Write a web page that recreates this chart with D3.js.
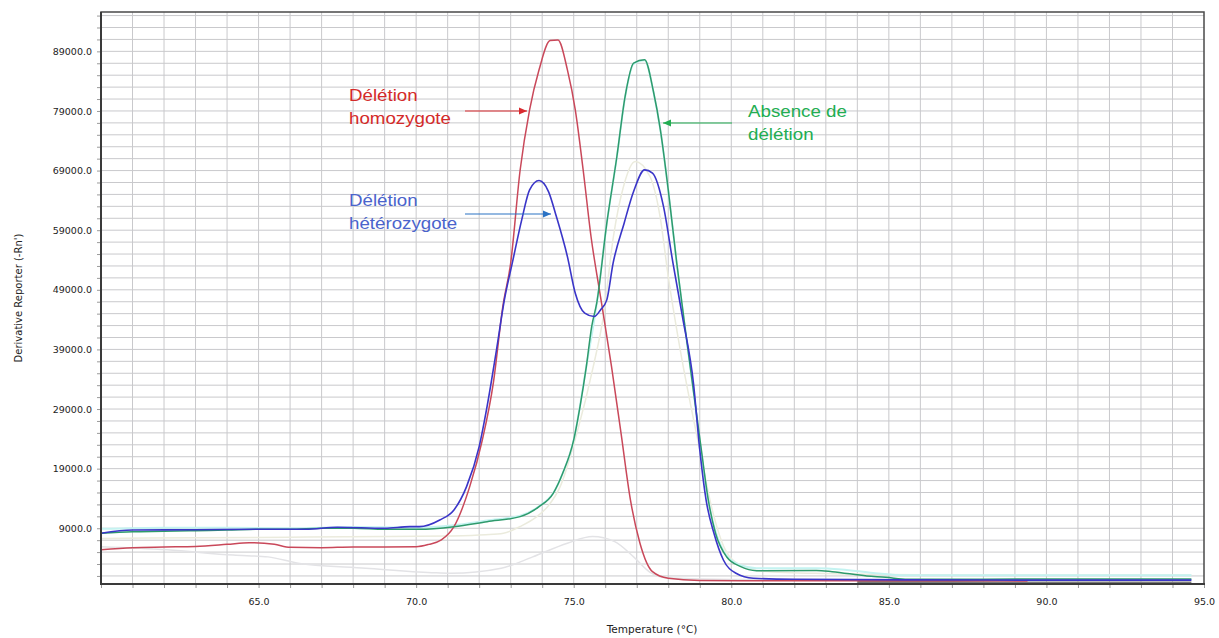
<!DOCTYPE html>
<html>
<head>
<meta charset="utf-8">
<script src="https://cdn.jsdelivr.net/npm/d3@7"></script>
<style>
  body { margin: 0; background: #ffffff; }
  svg { display: block; }
</style>
</head>
<body>
<svg id="chart" width="1219" height="638"></svg>
<script>
// ---------- DATA ----------
const xTickLabels = [65, 70, 75, 80, 85, 90, 95];
const yTickLabels = [9000, 19000, 29000, 39000, 49000, 59000, 69000, 79000, 89000];

// Délétion homozygote (red)
const redT = [60, 61, 62, 63, 64, 64.7, 65.5, 66, 67, 68, 69, 70, 70.4, 70.8, 71.2, 71.7, 72.1, 72.45, 72.75, 73.0, 73.3, 73.6, 73.9, 74.25, 74.5, 74.8, 75.05, 75.3, 75.55, 75.85, 76.2, 76.5, 76.8, 77.1, 77.5, 78.0, 79.0, 81, 84, 87, 89.4];
const redV = [5400, 5750, 5860, 5950, 6300, 6580, 6300, 5800, 5750, 5860, 5860, 5900, 6300, 7040, 9270, 15980, 23800, 33380, 46180, 53500, 69100, 79200, 85900, 90800, 90900, 85900, 79200, 69100, 57900, 47860, 36100, 25000, 13750, 6530, 1720, 610, 250, 200, 200, 200, 150];

// Délétion hétérozygote (blue)
const blueT = [60, 61, 63, 65, 66.5, 67.5, 69, 69.8, 70.1, 70.75, 71.2, 71.6, 72.0, 72.25, 72.55, 72.8, 73.05, 73.35, 73.6, 73.9, 74.2, 74.45, 74.8, 75.05, 75.35, 75.65, 75.85, 76.05, 76.25, 76.6, 76.9, 77.25, 77.5, 77.85, 78.15, 78.45, 78.8, 79.0, 79.2, 79.45, 79.75, 80.15, 80.7, 82, 85.5, 90, 94.6];
const blueV = [8160, 8700, 8750, 8830, 8830, 9170, 9000, 9270, 9270, 10390, 12070, 15980, 22690, 29400, 38920, 47310, 53470, 60730, 65770, 67330, 65480, 61290, 54570, 48430, 45080, 44510, 45630, 47310, 53470, 60180, 65480, 69120, 68570, 62960, 53470, 44510, 33330, 22140, 13750, 8160, 3680, 1450, 610, 440, 350, 300, 300];

// Absence de délétion (green)
const greenT = [60, 61, 62, 63, 64, 65, 66, 67, 68, 69, 70.1, 71.2, 72.25, 73.3, 73.9, 74.35, 74.65, 75.0, 75.2, 75.4, 75.57, 75.73, 76.05, 76.37, 76.63, 76.9, 77.25, 77.53, 77.75, 78.0, 78.27, 78.55, 78.8, 79.05, 79.27, 79.5, 79.85, 80.3, 80.8, 82.7, 83.2, 84.3, 84.9, 85.6, 88, 91, 94.6];
const greenV = [8160, 8430, 8500, 8600, 8700, 8830, 8830, 9000, 9000, 8830, 8830, 9270, 10110, 10950, 12620, 14870, 18230, 23820, 29400, 36120, 42830, 46760, 60180, 71360, 81420, 87030, 87580, 82260, 75840, 65770, 53470, 42000, 32000, 22140, 13750, 8160, 4230, 2560, 1890, 1900, 1720, 1000, 780, 440, 450, 500, 500];

// faint replicate close to green (light cyan)
const cyanT = [60, 62, 64, 66, 68, 70, 71.2, 72.25, 73.3, 73.9, 74.35, 74.65, 75.0, 75.4, 75.73, 76.05, 76.37, 76.63, 76.9, 77.25, 77.53, 77.75, 78.0, 78.27, 78.8, 79.27, 79.85, 80.3, 80.8, 82.7, 83.5, 84.5, 85.6, 88, 91, 94.6];
const cyanV = [8900, 9100, 9100, 9000, 9200, 9100, 9500, 10300, 11100, 12700, 14900, 18200, 23800, 36100, 46700, 60100, 71300, 81300, 86900, 87500, 82200, 75800, 65700, 53400, 32000, 13700, 4400, 2800, 2300, 2300, 2100, 1500, 1100, 1100, 1100, 1100];

// faint pale curve (peak near 77 °C)
const paleT = [60, 63, 66, 69, 71, 72.2, 72.77, 73.3, 73.83, 74.2, 74.57, 75.1, 75.62, 75.94, 76.26, 76.58, 76.95, 77.42, 77.74, 78.0, 78.38, 79.0, 79.4, 79.8, 80.3, 81, 83, 86, 90, 94.6];
const paleV = [7300, 7400, 7500, 7600, 7700, 7900, 8160, 9300, 10950, 12800, 15980, 24940, 36120, 44510, 57930, 66320, 70510, 68000, 61290, 51220, 38920, 22140, 12000, 5500, 2800, 1800, 1400, 1200, 1150, 1150];

// faint gray low curve
const grayT = [60, 62.1, 64.2, 65.3, 66.3, 68.4, 70.5, 71.1, 72.7, 73.7, 74.8, 75.6, 76.3, 76.9, 77.4, 78.0, 80, 85, 90, 94.6];
const grayV = [5900, 5400, 4500, 4200, 3100, 2300, 1550, 1450, 2300, 4200, 6500, 7600, 6750, 4200, 1700, 650, 400, 400, 350, 300];

// dark tail near the baseline at high temperature
const tailT = [84, 86, 88, 89.4, 92, 94.6];
const tailV = [0, -50, -100, -150, -150, -150];

// ---------- CHART ----------
const svg = d3.select("#chart");
const L = 101, R = 1204, T = 12, B = 584;
const x = d3.scaleLinear().domain([60, 95]).range([L, R]);
const y = d3.scaleLinear().domain([-350, 95600]).range([B, T]);

svg.append("rect").attr("width", 1219).attr("height", 638).attr("fill", "#ffffff");

svg.append("defs").append("clipPath").attr("id", "plotclip")
  .append("rect").attr("x", L).attr("y", T).attr("width", R - L).attr("height", B - T);

// gridlines
const grid = svg.append("g");
grid.selectAll("line.v").data(d3.range(61, 95)).join("line")
  .attr("x1", d => x(d)).attr("x2", d => x(d)).attr("y1", T).attr("y2", B)
  .attr("stroke", "#c9c9cc").attr("stroke-width", 1);
grid.selectAll("line.h").data(d3.range(1000, 96000, 2000)).join("line")
  .attr("x1", L).attr("x2", R).attr("y1", d => y(d)).attr("y2", d => y(d))
  .attr("stroke", "#c9c9cc").attr("stroke-width", 1);

// axes
const fmt = d3.format(".1f");
const xAxis = d3.axisBottom(x).tickValues(d3.range(60, 96, 1)).tickSize(4).tickPadding(10)
  .tickFormat(d => xTickLabels.includes(d) ? fmt(d) : "");
const gx = svg.append("g").attr("transform", `translate(0,${B})`).call(xAxis);
const yAxis = d3.axisLeft(y).tickValues(d3.range(1000, 96000, 2000)).tickSize(4).tickPadding(5)
  .tickFormat(d => yTickLabels.includes(d) ? fmt(d) : "");
const gy = svg.append("g").attr("transform", `translate(${L},0)`).call(yAxis);
[gx, gy].forEach(g => {
  g.select(".domain").remove();
  g.selectAll(".tick line").attr("stroke", "#9a9a9a");
  g.selectAll(".tick text").attr("fill", "#222").attr("font-family", "DejaVu Sans")
    .attr("font-size", "9.5px");
});

// curves
const clipG = svg.append("g").attr("clip-path", "url(#plotclip)");
const line = d3.line().x(d => x(d[0])).y(d => y(d[1])).curve(d3.curveMonotoneX);
const series = [
  { t: grayT, v: grayV, color: "#e3e3e6", w: 1.5 },
  { t: paleT, v: paleV, color: "#ebebdd", w: 1.5 },
  { t: tailT, v: tailV, color: "#7a7a7a", w: 2.5 },
  { t: cyanT, v: cyanV, color: "#c4f3f1", w: 2 },
  { t: redT, v: redV, color: "#c9485a", w: 1.5 },
  { t: greenT, v: greenV, color: "#2e9a6c", w: 1.5 },
  { t: blueT, v: blueV, color: "#3a35c8", w: 1.6 }
];
series.forEach(s => {
  clipG.append("path").datum(s.t.map((t, i) => [t, s.v[i]]))
    .attr("d", line).attr("fill", "none").attr("stroke", s.color)
    .attr("stroke-width", s.w).attr("stroke-linejoin", "round");
});

// frame
svg.append("rect").attr("x", L).attr("y", T).attr("width", R - L).attr("height", B - T)
  .attr("fill", "none").attr("stroke", "#4a4a4a").attr("stroke-width", 1.5);
svg.append("line").attr("x1", L).attr("x2", L).attr("y1", T).attr("y2", B + 1)
  .attr("stroke", "#3a3a3a").attr("stroke-width", 2);
svg.append("line").attr("x1", L - 1).attr("x2", R + 1).attr("y1", B).attr("y2", B)
  .attr("stroke", "#3a3a3a").attr("stroke-width", 2);

// axis titles
svg.append("text").attr("x", 652).attr("y", 633).attr("text-anchor", "middle")
  .attr("font-family", "DejaVu Sans").attr("font-size", "10.5px").attr("fill", "#222")
  .text("Temperature (°C)");
svg.append("text").attr("transform", "translate(22,298) rotate(-90)").attr("text-anchor", "middle")
  .attr("font-family", "DejaVu Sans").attr("font-size", "10px").attr("fill", "#222")
  .text("Derivative Reporter (-Rn')");

// annotations
function label(lines, xPos, yPos, color) {
  lines.forEach((txt, i) => {
    svg.append("text")
      .attr("transform", `translate(${xPos},${yPos + i * 22.5}) scale(1.17,1)`)
      .attr("font-family", "Liberation Sans, Arial, sans-serif").attr("font-size", "16px")
      .attr("fill", color).text(txt);
  });
}
function arrow(x1, x2, yy, color) {
  svg.append("line").attr("x1", x1).attr("x2", x2).attr("y1", yy).attr("y2", yy)
    .attr("stroke", color).attr("stroke-width", 1.2);
  const dir = x2 > x1 ? 1 : -1;
  svg.append("path")
    .attr("d", `M${x2},${yy} L${x2 - dir * 8},${yy - 3.5} L${x2 - dir * 8},${yy + 3.5} Z`)
    .attr("fill", color);
}
label(["Délétion", "homozygote"], 349, 101, "#d42a2a");
arrow(465, 527, 111, "#d92a2f");
label(["Délétion", "hétérozygote"], 349, 206, "#4a63cc");
arrow(465, 551, 214, "#2a72c4");
label(["Absence de", "délétion"], 748, 117, "#22ad52");
arrow(732, 663, 123, "#22ad52");
</script>
</body>
</html>
